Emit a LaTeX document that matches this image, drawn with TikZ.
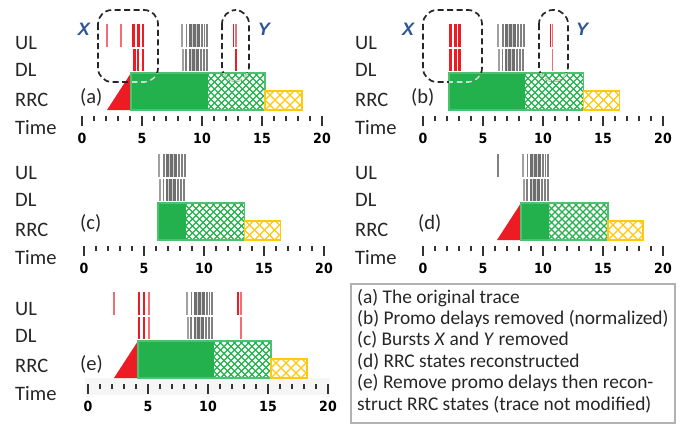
\documentclass[tikz,border=0pt]{standalone}
\usepackage{fontspec}
\setmainfont{Carlito}
\newfontfamily\numfont{DejaVu Sans Condensed}
\newfontfamily\xyfont{Liberation Sans}
\usetikzlibrary{calc}
\definecolor{pred}{RGB}{237,28,36}
\definecolor{lred}{RGB}{242,110,115}
\definecolor{pgreen}{RGB}{34,177,76}
\definecolor{pyellow}{RGB}{255,201,14}
\definecolor{pgray}{RGB}{128,128,128}
\definecolor{dgray}{RGB}{110,110,110}
\definecolor{xyblue}{RGB}{47,85,151}
\tikzset{
 lab/.style={anchor=base west, inner sep=0pt, text=black!85, font=\fontsize{20.5}{24}\selectfont},
 leg/.style={anchor=base west, inner sep=0pt, text=black!85, font=\fontsize{19.4}{23}\selectfont},
 num/.style={anchor=base, inner sep=0pt, font=\numfont\bfseries\fontsize{14}{17}\selectfont},
 xylab/.style={anchor=base, inner sep=0pt, text=xyblue, font=\xyfont\bfseries\itshape\fontsize{18}{20}\selectfont},
 dashbox/.style={draw=black!85, dash pattern=on 6pt off 3.5pt, line width=1.7pt, rounded corners=14pt},
 tickmark/.style={draw=black!80, line width=1.4pt},
}
\newcommand\hatchrect[6]{%
 \begin{scope}
 \clip (#1,#2) rectangle (#3,#4);
 \fill[white] (#1,#2) rectangle (#3,#4);
 \foreach \k in {-10,...,20}{
   \draw[#5, line width=1.1pt] ($(#1,#4)+(\k*#6,0)$) -- ++(70,-70);
   \draw[#5, line width=1.1pt] ($(#1,#4)+(\k*#6,0)$) -- ++(-70,-70);
 }
 \end{scope}
 \draw[#5, line width=1.3pt] (#1,#2) rectangle (#3,#4);
}
\newcommand\evu[3]{\draw[#3, line width=#2pt] (#1,24) -- (#1,47);}
\newcommand\evd[3]{\draw[#3, line width=#2pt] (#1,49) -- (#1,71);}
\newcommand\grayburst[1]{%
 \begin{scope}[xshift=#1pt]
 \evu{0.9}{1.8}{pgray!75}\evu{5.5}{1.6}{pgray}
 \fill[dgray] (7.5,24) rectangle (18.5,47);
 \draw[white!65!gray, line width=0.7pt] (11,24) -- (11,47) (15,24) -- (15,47);
 \evu{20.5}{2}{pgray}\evu{23.5}{1.8}{pgray}\evu{26.3}{2}{pgray}
 \evd{1.8}{1.8}{pgray!75}\evd{5}{1.5}{pgray}
 \fill[dgray] (7.5,49) rectangle (18,71);
 \draw[white!65!gray, line width=0.7pt] (10.5,49) -- (10.5,71) (14.5,49) -- (14.5,71);
 \evd{20}{2}{pgray}\evd{23}{1.8}{pgray}\evd{25.8}{2}{pgray}
 \end{scope}}
\newcommand\timeaxis[1]{%
 \foreach \k in {0,...,20}{\draw[tickmark] (\k*12,116) -- (\k*12,121);}
 \foreach \k in {0,5,...,20}{\draw[tickmark] (\k*12,116) -- (\k*12,126);
   \node[num] (#1n\k) at (\k*12,143) {\k};}
}
\newcommand\rowlabels[3]{% x, y offset, prefix
 \node[lab] (#3ul) at (#1,49+#2) {UL};
 \node[lab] (#3dl) at (#1,76+#2) {DL};
 \node[lab] (#3rrc) at (#1,106+#2) {RRC};
 \node[lab] (#3time) at (#1,134+#2) {Time};
}
\begin{document}
\begin{tikzpicture}[x=1pt,y=-1pt]
\useasboundingbox (0,0) rectangle (688,426);
\fill[white] (0,0) rectangle (688,426);

% ---------- labels ----------
\rowlabels{15}{0}{a}
\rowlabels{355}{0}{b}
\rowlabels{15}{130}{c}
\rowlabels{355}{130}{d}
\rowlabels{15}{266}{e}
\node[lab] (pa) at (80,103) {(a)};
\node[lab] (pb) at (411,103) {(b)};
\node[lab] (pc) at (80,229) {(c)};
\node[lab] (pd) at (418,229) {(d)};
\node[lab] (pe) at (80,370) {(e)};

% ---------- panel (a) ----------
\begin{scope}[shift={(82,0)}]
 \fill[pred] (25,110) -- (49,110) -- (49,73) -- cycle;
 \fill[pgreen] (49,73) rectangle (125.5,110);
 \hatchrect{125.5}{73}{183}{110}{pgreen}{7}
 \draw[pgreen!80!white, line width=1.2pt] (49,73) rectangle (183,110);
 \hatchrect{183}{91}{220}{110}{pyellow}{10}
 \evu{25}{1.4}{lred}\evu{39}{1.4}{lred}
 \evu{51.3}{3.2}{pred}\evu{56.3}{3}{pred}\evu{60.8}{2.6}{pred}
 \evd{52.7}{2.6}{pred}\evd{56.3}{2.2}{pred}\evd{60.8}{2.6}{pred}
 \grayburst{99}
 \evu{151.5}{1.4}{pred}\evu{154}{1.4}{lred}
 \evd{154}{1.6}{pred}
 \draw[dashbox] (16,10) rectangle (76,82);
 \draw[dashbox] (140,10) rectangle (167,81);
 \begin{scope}
  \clip (49,73) rectangle (183,110);
  \draw[dashbox, draw=white!70!pgreen] (16,10) rectangle (76,82);
  \draw[dashbox, draw=white!70!pgreen] (140,10) rectangle (167,81);
 \end{scope}
 \node[xylab] (Xa) at (2,35) {X};
 \node[xylab] (Ya) at (182,35) {Y};
 \timeaxis{a}
\end{scope}

% ---------- panel (b) ----------
\begin{scope}[shift={(423,0)}]
 \fill[pgreen] (26,73) rectangle (101.5,110);
 \hatchrect{101.5}{73}{160.5}{110}{pgreen}{7}
 \draw[pgreen!80!white, line width=1.2pt] (26,73) rectangle (160.5,110);
 \hatchrect{160.5}{91}{196.5}{110}{pyellow}{10}
 \evu{27.5}{2.5}{pred}\evu{32}{3}{pred}\evu{36.5}{2.5}{pred}
 \evd{27.5}{2.5}{pred}\evd{32}{3}{pred}\evd{36.5}{2.5}{pred}
 \grayburst{74.3}
 \evu{127.5}{1.4}{pred}\evu{129.5}{1.4}{lred}
 \evd{129.3}{1.6}{lred}
 \draw[dashbox] (0,10) rectangle (59,82);
 \draw[dashbox] (116,10) rectangle (145,81);
 \begin{scope}
  \clip (26,73) rectangle (160.5,110);
  \draw[dashbox, draw=white!70!pgreen] (0,10) rectangle (59,82);
  \draw[dashbox, draw=white!70!pgreen] (116,10) rectangle (145,81);
 \end{scope}
 \node[xylab] (Xb) at (-15,35) {X};
 \node[xylab] (Yb) at (159,35) {Y};
 \timeaxis{b}
\end{scope}

% ---------- panel (c) ----------
\begin{scope}[shift={(84,130)}]
 \fill[pgreen] (74,73) rectangle (101.5,110);
 \hatchrect{101.5}{73}{160.5}{110}{pgreen}{7}
 \draw[pgreen!80!white, line width=1.2pt] (74,73) rectangle (160.5,110);
 \hatchrect{160.5}{91}{196.5}{110}{pyellow}{10}
 \grayburst{74.3}
 \timeaxis{c}
\end{scope}

% ---------- panel (d) ----------
\begin{scope}[shift={(423,130)}]
 \fill[pred] (74,110) -- (98,110) -- (98,73) -- cycle;
 \fill[pgreen] (98,73) rectangle (125,110);
 \hatchrect{125}{73}{185}{110}{pgreen}{7}
 \draw[pgreen!80!white, line width=1.2pt] (98,73) rectangle (185,110);
 \hatchrect{185}{91}{220}{110}{pyellow}{10}
 \evu{75}{1.3}{pgray}
 \grayburst{99}
 \timeaxis{d}
\end{scope}

% ---------- panel (e) ----------
\begin{scope}[shift={(88,268)}]
 \fill[gray!7] (-3,110) rectangle (242,127);
 \fill[pred] (26,110) -- (50,110) -- (50,73) -- cycle;
 \fill[pgreen] (50,73) rectangle (125.5,110);
 \hatchrect{125.5}{73}{183}{110}{pgreen}{7}
 \draw[pgreen!80!white, line width=1.2pt] (50,73) rectangle (183,110);
 \hatchrect{183}{91}{219}{110}{pyellow}{10}
 \evu{26}{1.4}{lred}
 \evu{51}{2.5}{pred}\evu{56}{2.5}{pred}\evu{61}{2.5}{lred}
 \evd{51}{2.5}{pred}\evd{56}{2.5}{pred}\evd{61}{2.5}{lred}
 \grayburst{98}
 \evu{150}{1.4}{pred}\evu{153}{1.4}{lred}
 \evd{153}{1.6}{lred}
 \timeaxis{e}
\end{scope}

% ---------- legend ----------
\draw[black!30, line width=1.2pt] (351,284) rectangle (675,423);
\node[leg] (l1) at (357,303) {(a) The original trace};
\node[leg] (l2) at (357,324.4) {(b) Promo delays removed (normalized)};
\node[leg] (l3) at (357,345.8) {(c) Bursts \textit{X} and \textit{Y} removed};
\node[leg] (l4) at (357,367.2) {(d) RRC states reconstructed};
\node[leg] (l5) at (357,388.6) {(e) Remove promo delays then recon-};
\node[leg] (l6) at (357,410) {struct RRC states (trace not modified)};
\end{tikzpicture}
\end{document}
